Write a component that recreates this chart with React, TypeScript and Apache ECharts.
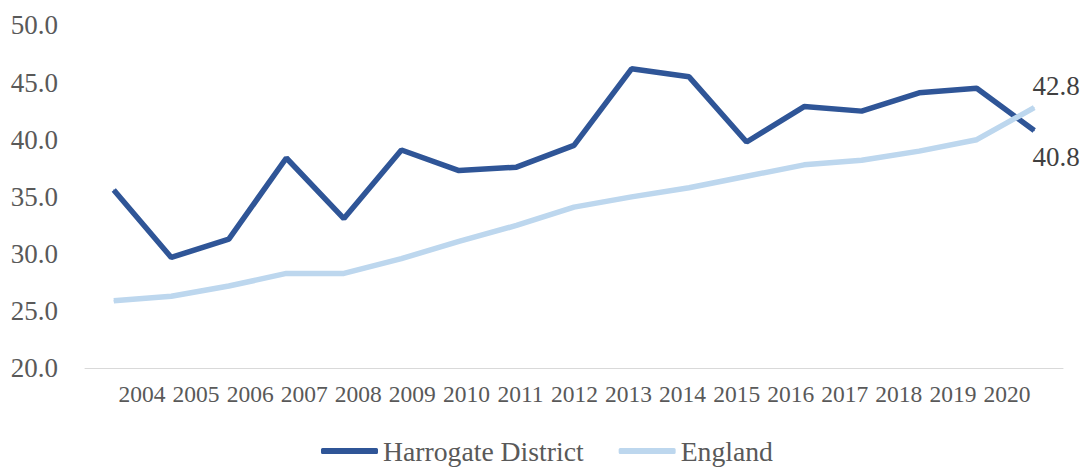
import React, { useEffect, useRef } from "react";
import * as echarts from "echarts";

const years = ["2004","2005","2006","2007","2008","2009","2010","2011","2012","2013","2014","2015","2016","2017","2018","2019","2020"];
const harrogate = [35.6, 29.7, 31.3, 38.4, 33.1, 39.1, 37.3, 37.6, 39.5, 46.2, 45.5, 39.8, 42.9, 42.5, 44.1, 44.5, 40.8];
const england = [25.9, 26.3, 27.2, 28.3, 28.3, 29.6, 31.1, 32.5, 34.1, 35.0, 35.8, 36.8, 37.8, 38.2, 39.0, 40.0, 42.8];
const yTicks = { min: 20, max: 50, interval: 5 };

const FONT = "'Liberation Serif', 'Times New Roman', serif";
const DARK = "#2F5597";
const LIGHT = "#BDD7EE";

function withEndLabel(values: number[], offset: number[]) {
  return values.map((v, i) =>
    i === values.length - 1
      ? {
          value: v,
          label: {
            show: true,
            position: "inside",
            offset,
            formatter: (p: any) => Number(p.value).toFixed(1),
            fontFamily: FONT,
            fontSize: 27,
            color: "#404040",
          },
        }
      : v
  );
}

export default function App() {
  const ref = useRef<HTMLDivElement>(null);
  useEffect(() => {
    if (!ref.current) return;
    const chart = echarts.init(ref.current, null, { renderer: "svg" });
    chart.setOption({
      animation: false,
      grid: [
        { left: 85, right: 19, top: 25.4, bottom: 98.7 },
        { left: 115, right: 48, top: 25.4, bottom: 98.7 },
      ],
      legend: {
        left: 321,
        top: 437,
        padding: 0,
        itemWidth: 57,
        itemHeight: 6,
        itemGap: 35,
        icon: "roundRect",
        textStyle: { fontFamily: FONT, fontSize: 27.7, lineHeight: 26, color: "#595959" },
        data: ["Harrogate District", "England"],
      },
      xAxis: [
        {
          type: "category",
          gridIndex: 0,
          data: years,
          boundaryGap: true,
          axisLine: { lineStyle: { color: "#D9D9D9", width: 1 } },
          axisTick: { show: false },
          axisLabel: { show: false },
        },
        {
          type: "category",
          gridIndex: 1,
          data: years,
          boundaryGap: true,
          axisLine: { show: false },
          axisTick: { show: false },
          axisLabel: {
            interval: 0,
            margin: 14,
            fontFamily: FONT,
            fontSize: 23.5,
            color: "#595959",
          },
        },
      ],
      yAxis: [
        {
          type: "value",
          gridIndex: 0,
          min: yTicks.min,
          max: yTicks.max,
          interval: yTicks.interval,
          axisLine: { show: false },
          axisTick: { show: false },
          splitLine: { show: false },
          axisLabel: {
            margin: 27,
            formatter: (v: number) => v.toFixed(1),
            fontFamily: FONT,
            fontSize: 27,
            color: "#595959",
          },
        },
        {
          type: "value",
          gridIndex: 1,
          min: yTicks.min,
          max: yTicks.max,
          interval: yTicks.interval,
          show: false,
        },
      ],
      series: [
        {
          name: "Harrogate District",
          type: "line",
          data: withEndLabel(harrogate, [22, 26]),
          symbol: "circle",
          symbolSize: 1,
          showSymbol: true,
          itemStyle: { color: DARK },
          lineStyle: { color: DARK, width: 5.5 },
          z: 3,
        },
        {
          name: "England",
          type: "line",
          data: withEndLabel(england, [22, -22]),
          symbol: "circle",
          symbolSize: 1,
          showSymbol: true,
          itemStyle: { color: LIGHT },
          lineStyle: { color: LIGHT, width: 5.5 },
          z: 4,
        },
      ],
    });
    return () => chart.dispose();
  }, []);
  return (
    <div
      ref={ref}
      style={{ position: "absolute", left: 0, top: 0, width: 1082, height: 467 }}
    />
  );
}
